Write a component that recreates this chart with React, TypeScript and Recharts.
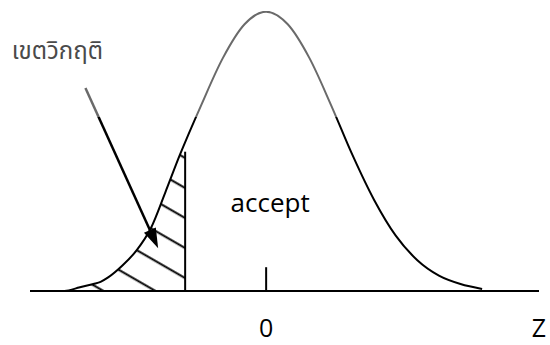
import React from 'react';
import {
  ComposedChart,
  Line,
  Area,
  XAxis,
  YAxis,
  ReferenceLine,
  ReferenceDot,
} from 'recharts';

// Standardised score (z) and the height of the bell curve at each z
const zValues = [-2.8, -2.7, -2.6, -2.4, -2.3, -2.2, -2.0, -1.8, -1.6, -1.4, -1.2, -0.9, -0.6, -0.3, 0, 0.3, 0.6, 0.9, 1.2, 1.5, 1.8, 2.1, 2.4, 2.7, 3.0];
const densities = [0, 0.002, 0.005, 0.01, 0.013, 0.019, 0.036, 0.058, 0.09, 0.141, 0.194, 0.266, 0.333, 0.381, 0.399, 0.381, 0.333, 0.266, 0.194, 0.13, 0.079, 0.044, 0.022, 0.01, 0.003];

// Critical value splitting the rejection region from the acceptance region
const criticalZ = -1.125;
const criticalDensity = 0.21;
const criticalLineTop = 0.199;

// Axis range and labels
const zDomain = [-3.28, 3.79];
const densityDomain = [0, 0.4];
const tickValues = [0, 3.79];
const tickLabels = ['0', 'Z'];
const zeroTickHeight = 0.034;

// Annotations
const regionLabel = 'เขตวิกฤติ';
const regionLabelAt = { z: -2.9, d: 0.344 };
const acceptLabel = 'accept';
const acceptLabelAt = { z: 0.056, d: 0.126 };
const arrowFrom = { z: -2.51, d: 0.29 };
const arrowTo = { z: -1.5, d: 0.061 };

const curveData = zValues.map((z, i) => ({ z, d: densities[i] }));
const rejectionData = [
  ...curveData.filter((p) => p.z <= criticalZ),
  { z: criticalZ, d: criticalDensity },
];

const FONT = '"Open Sans", "Noto Sans", sans-serif';

const AxisTick = (props: any) => {
  const { x, y, payload } = props;
  const idx = tickValues.indexOf(payload.value);
  return (
    <text x={x} y={y} dy={46} textAnchor="middle" fontFamily={FONT} fontSize={25} fill="#000">
      {tickLabels[idx]}
    </text>
  );
};

const ArrowShape = (props: any) => {
  const { x1, y1, x2, y2 } = props;
  const ang = Math.atan2(y2 - y1, x2 - x1);
  const headLen = 20;
  const headHalf = 6.5;
  const bx = x2 - headLen * Math.cos(ang);
  const by = y2 - headLen * Math.sin(ang);
  const px = -Math.sin(ang) * headHalf;
  const py = Math.cos(ang) * headHalf;
  return (
    <g>
      <line x1={x1} y1={y1} x2={bx} y2={by} stroke="url(#inkFade)" strokeWidth={2.5} />
      <polygon
        points={`${x2},${y2} ${bx + px},${by + py} ${bx - px},${by - py}`}
        fill="#000"
      />
    </g>
  );
};

export default function App() {
  return (
    <div style={{ position: 'absolute', left: 0, top: 0, background: '#fff' }}>
      <ComposedChart
        width={550}
        height={345}
        margin={{ top: 11, right: 11, bottom: 0, left: 30 }}
      >
        <defs>
          <pattern
            id="hatch"
            patternUnits="userSpaceOnUse"
            width={26}
            height={26}
            patternTransform="rotate(30)"
          >
            <line x1={0} y1={18.3} x2={26} y2={18.3} stroke="#000" strokeWidth={2} />
          </pattern>
          {/* ink is lighter across the upper band of the figure */}
          <linearGradient id="inkFade" gradientUnits="userSpaceOnUse" x1={0} y1={0} x2={0} y2={345}>
            <stop offset="0" stopColor="#6a6a6a" />
            <stop offset="0.34" stopColor="#6a6a6a" />
            <stop offset="0.34" stopColor="#000" />
            <stop offset="1" stopColor="#000" />
          </linearGradient>
        </defs>
        <XAxis
          dataKey="z"
          type="number"
          domain={zDomain}
          allowDataOverflow
          ticks={tickValues}
          interval={0}
          tick={<AxisTick />}
          tickLine={false}
          tickSize={0}
          tickMargin={0}
          height={54}
          axisLine={{ stroke: '#000', strokeWidth: 2 }}
        />
        <YAxis hide type="number" domain={densityDomain} allowDataOverflow />
        <Area
          data={rejectionData}
          dataKey="d"
          type="monotone"
          stroke="none"
          fill="url(#hatch)"
          fillOpacity={1}
          isAnimationActive={false}
        />
        <Line
          data={curveData}
          dataKey="d"
          type="monotone"
          stroke="url(#inkFade)"
          strokeWidth={2}
          dot={false}
          isAnimationActive={false}
        />
        <ReferenceLine
          segment={[{ x: criticalZ, y: 0 }, { x: criticalZ, y: criticalLineTop }]}
          stroke="#000"
          strokeWidth={2}
        />
        <ReferenceLine
          segment={[{ x: 0, y: 0 }, { x: 0, y: zeroTickHeight }]}
          stroke="#000"
          strokeWidth={2}
        />
        <ReferenceLine
          segment={[{ x: arrowFrom.z, y: arrowFrom.d }, { x: arrowTo.z, y: arrowTo.d }]}
          shape={<ArrowShape />}
        />
        <ReferenceDot
          x={acceptLabelAt.z}
          y={acceptLabelAt.d}
          r={0}
          fill="none"
          stroke="none"
          label={{ value: acceptLabel, position: 'center', fontFamily: FONT, fontSize: 26, fill: '#000' }}
        />
        <ReferenceDot
          x={regionLabelAt.z}
          y={regionLabelAt.d}
          r={0}
          fill="none"
          stroke="none"
          label={{ value: regionLabel, position: 'center', fontFamily: '"Noto Sans Thai", Tahoma, sans-serif', fontSize: 24, fill: '#4a4a4a' }}
        />
      </ComposedChart>
    </div>
  );
}
